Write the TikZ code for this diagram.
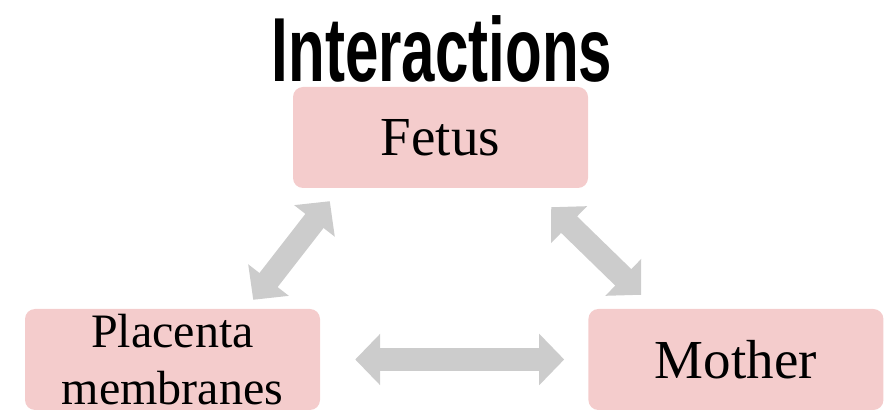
\documentclass[tikz,border=0pt]{standalone}
\usepackage{fontspec}
\setmainfont{Liberation Serif}
\newfontfamily\titlefont{Liberation Sans}
\usepackage{tikz}
\usetikzlibrary{arrows.meta,positioning}
\definecolor{boxpink}{HTML}{F4CCCC}
\definecolor{arrowgrey}{HTML}{CCCCCC}

\begin{document}
\begin{tikzpicture}[
  x=1pt, y=1pt,
  node distance=268pt,
  box/.style={fill=boxpink, rounded corners=10pt, inner sep=0pt,
    minimum width=295pt, minimum height=101pt, align=center,
    font=\fontsize{55}{57}\selectfont},
  arr/.style={draw=arrowgrey, line width=23pt,
    {Triangle[length=25pt,width=50pt]}-{Triangle[length=25pt,width=50pt]}}
]
\useasboundingbox (0,0) rectangle (892,415);
\node[anchor=base, inner sep=0pt] (title) at (442,333)
  {\scalebox{0.66}[1]{\titlefont\bfseries\fontsize{91}{91}\selectfont Interactions}};
\node[box] (fetus) at (440.5,277.5) {Fetus};
\node[box, font=\fontsize{48}{57}\selectfont] (plac) at (172.5,55.5) {Placenta\\membranes};
\node[box, right=of plac] (mother) {Mother};
\draw[arr] ([xshift=-67pt,yshift=9pt]plac.north east) -- ([xshift=37pt,yshift=-13pt]fetus.south west);
\draw[arr] ([xshift=-37pt,yshift=-19pt]fetus.south east) -- ([xshift=53pt,yshift=14pt]mother.north west);
\draw[arr] ([xshift=35pt]plac.east) -- ([xshift=-24pt]mother.west);
\end{tikzpicture}
\end{document}
